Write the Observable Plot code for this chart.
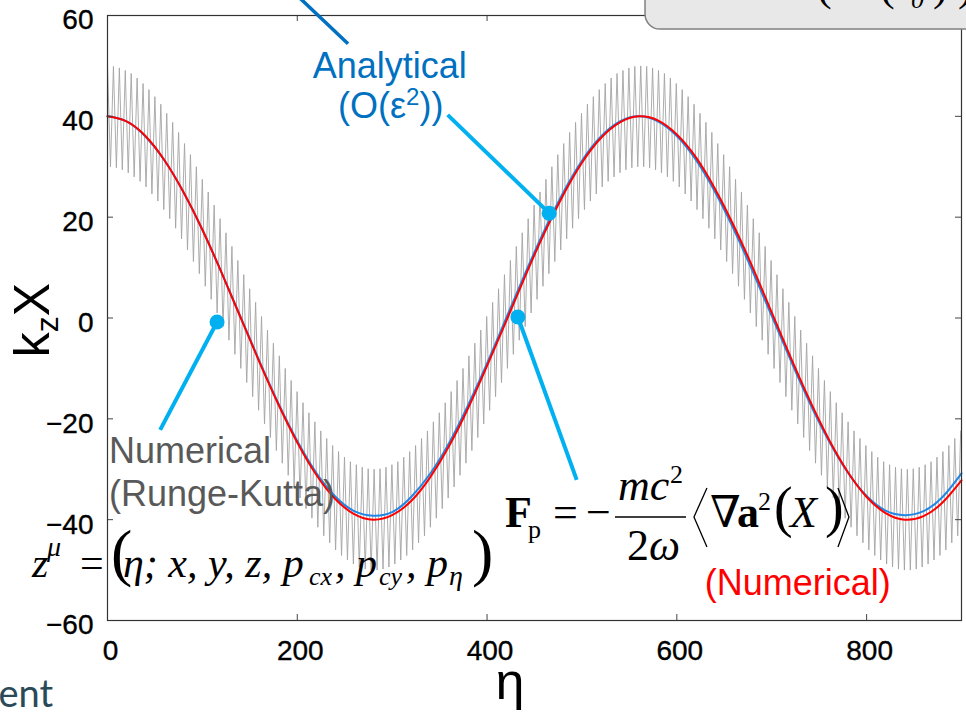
<!DOCTYPE html>
<html>
<head>
<meta charset="utf-8">
<script src="https://cdn.jsdelivr.net/npm/d3@7"></script>
<script src="https://cdn.jsdelivr.net/npm/@observablehq/plot@0.6"></script>
<style>
  html, body { margin: 0; padding: 0; background: #fff; overflow: hidden; }
  svg { display: block; }
  g[aria-label$="tick label"] text { stroke: #000; stroke-width: 0.35px; }
</style>
</head>
<body>
<div id="chart"></div>
<script>
// ---- axis ticks ----
const xTicks = [0, 200, 400, 600, 800];
const yTicks = [-60, -40, -20, 0, 20, 40, 60];

// ---- smooth curves: guiding-centre (red, numerical ponderomotive) and analytical O(eps^2) (blue) ----
const etaCurve = [0,20,40,60,80,100,120,140,160,180,200,220,240,260,280,300,320,340,360,380,400,420,440,460,480,500,520,540,560,580,600,620,640,660,680,700,720,740,760,780,800,820,840,860,880,900];
const redValues = [40.0,39.0,36.1,31.3,25.0,17.5,9.1,0.2,-8.7,-17.1,-24.7,-31.1,-35.9,-38.9,-40.0,-39.1,-36.3,-31.6,-25.4,-17.9,-9.5,-0.7,8.2,16.7,24.3,30.8,35.7,38.8,40.0,39.2,36.4,31.9,25.7,18.3,10.0,1.1,-7.8,-16.3,-24.0,-30.5,-35.5,-38.7,-40.0,-39.3,-36.6,-32.2];
const blueValues = [40.0,39.0,36.0,31.3,25.0,17.5,9.1,0.3,-8.5,-16.9,-24.4,-30.7,-35.4,-38.3,-39.2,-38.5,-35.5,-30.9,-24.8,-17.3,-9.0,-0.1,8.8,17.2,24.8,31.2,36.0,39.0,40.0,39.0,36.1,31.4,25.1,17.6,9.2,0.4,-8.4,-16.8,-24.3,-30.6,-35.3,-38.2,-39.1,-38.3,-35.5,-30.8];

// ---- Runge-Kutta trajectory: fast quiver, successive maxima and minima ----
const grayHalfPeriod = 3.122; // eta between a maximum and the next minimum
const grayMaxima = [
50.0,49.9,49.6,49.1,48.5,47.6,46.5,45.3,43.9,42.4,
40.6,38.8,36.8,34.6,32.4,30.0,27.5,25.0,22.4,19.7,
16.9,14.2,11.4,8.6,5.8,3.1,0.3,-2.4,-5.0,-7.5,
-10.0,-12.4,-14.6,-16.8,-18.8,-20.6,-22.4,-23.9,-25.3,-26.5,
-27.6,-28.5,-29.1,-29.6,-29.9,-30.0,-29.9,-29.6,-29.1,-28.5,
-27.6,-26.5,-25.3,-23.9,-22.4,-20.6,-18.8,-16.8,-14.6,-12.4,
-10.0,-7.5,-5.0,-2.4,0.3,3.1,5.8,8.6,11.4,14.2,
16.9,19.7,22.4,25.0,27.5,30.0,32.4,34.6,36.8,38.8,
40.6,42.4,43.9,45.3,46.5,47.6,48.5,49.1,49.6,49.9,
50.0,49.9,49.6,49.1,48.5,47.6,46.5,45.3,43.9,42.4,
40.6,38.8,36.8,34.6,32.4,30.0,27.5,25.0,22.4,19.7,
16.9,14.2,11.4,8.6,5.8,3.1,0.3,-2.4,-5.0,-7.5,
-10.0,-12.4,-14.6,-16.8,-18.8,-20.6,-22.4,-23.9,-25.3,-26.5,
-27.6,-28.5,-29.1,-29.6,-29.9,-30.0,-29.9,-29.6,-29.1,-28.5,
-27.6,-26.5,-25.3,-23.9,-22.4];
const grayMinima = [
30.0,29.8,29.4,28.8,28.0,27.1,26.0,24.6,23.2,21.5,
19.7,17.8,15.7,13.5,11.2,8.8,6.3,3.7,1.0,-1.7,
-4.4,-7.2,-10.0,-12.8,-15.6,-18.3,-21.0,-23.7,-26.3,-28.8,
-31.2,-33.5,-35.7,-37.8,-39.7,-41.5,-43.2,-44.6,-46.0,-47.1,
-48.0,-48.8,-49.4,-49.8,-50.0,-50.0,-49.8,-49.4,-48.8,-48.0,
-47.1,-46.0,-44.6,-43.2,-41.5,-39.7,-37.8,-35.7,-33.5,-31.2,
-28.8,-26.3,-23.7,-21.0,-18.3,-15.6,-12.8,-10.0,-7.2,-4.4,
-1.7,1.0,3.7,6.3,8.8,11.2,13.5,15.7,17.8,19.7,
21.5,23.2,24.6,26.0,27.1,28.0,28.8,29.4,29.8,30.0,
30.0,29.8,29.4,28.8,28.0,27.1,26.0,24.6,23.2,21.5,
19.7,17.8,15.7,13.5,11.2,8.8,6.3,3.7,1.0,-1.7,
-4.4,-7.2,-10.0,-12.8,-15.6,-18.3,-21.0,-23.7,-26.3,-28.8,
-31.2,-33.5,-35.7,-37.8,-39.7,-41.5,-43.2,-44.6,-46.0,-47.1,
-48.0,-48.8,-49.4,-49.8,-50.0,-50.0,-49.8,-49.4,-48.8,-48.0,
-47.1,-46.0,-44.6,-43.2];

// ---- annotation anchors (data coordinates) ----
const labelAnalytical = {eta: 298, v: 47.5};
const labelAnalytical2 = {eta: 299, v: 39.6};
const calloutAnalytical = [[359, 40.2], [466, 20.7]];
const calloutForce = [[433, 0.1], [495, -32.2]];
const calloutNumerical = [[116, -0.9], [56, -22.3]];
const topPointer = [[203, 63.4], [254, 54.3]];
const labelNumerical = {eta: 2, v: -28.9};
const labelRunge = {eta: 2, v: -37.3};
const labelRedNumerical = {eta: 630, v: -55.0};
const formulaZ = {eta: -81.1, v: -51.5};
const formulaF = {eta: 419.4, v: -41.55};
const boxCorner = {eta: 567, v: 57.2};
const yTitlePos = {eta: -61, v: -0.5};
const xTitlePos = {eta: 424.7, v: -75.7};
const cutTextPos = {eta: -56.9, v: -77.3};

// ---- build tables ----
const curves = etaCurve.map((e, i) => ({eta: e, red: redValues[i], blue: blueValues[i]}));
const grayPts = [];
grayMaxima.forEach((v, k) => {
  grayPts.push({eta: 2 * k * grayHalfPeriod, v});
  if (k < grayMinima.length) grayPts.push({eta: (2 * k + 1) * grayHalfPeriod, v: grayMinima[k]});
});

const W = 966, H = 717, mL = 107, mR = 5, mT = 15, mB = 97;
const pw = W - mL - mR, ph = H - mT - mB;
const tickLen = 6;

const chart = Plot.plot({
  width: W, height: H,
  marginLeft: mL, marginRight: mR, marginTop: mT, marginBottom: mB,
  style: {fontFamily: "'Liberation Sans', Arial, sans-serif", fontSize: "28px", color: "#000", background: "#fff", overflow: "visible"},
  x: {domain: [0, 900]},
  y: {domain: [-60, 60]},
  marks: [
    Plot.line(grayPts, {x: "eta", y: "v", stroke: "#a4a4a4", strokeWidth: 0.9}),
    Plot.line(curves, {x: "eta", y: "blue", stroke: "#1f86e6", strokeWidth: 2, curve: "natural"}),
    Plot.line(curves, {x: "eta", y: "red", stroke: "#ff0000", strokeWidth: 2, curve: "natural"}),
    Plot.ruleX(xTicks, {insetTop: ph - tickLen, stroke: "#444"}),
    Plot.ruleX(xTicks, {insetBottom: ph - tickLen, stroke: "#444"}),
    Plot.ruleY(yTicks, {insetRight: pw - tickLen, stroke: "#444"}),
    Plot.ruleY(yTicks, {insetLeft: pw - tickLen, stroke: "#444"}),
    Plot.frame({stroke: "#333", strokeWidth: 1.2}),
    Plot.axisX({ticks: xTicks, tickSize: 0, tickPadding: 20, dx: 3, fontSize: 28, label: null}),
    Plot.axisY({ticks: yTicks, tickSize: 0, tickPadding: 14, dy: 5, fontSize: 28, label: null})
  ]
});
document.getElementById("chart").appendChild(chart);

// ---- annotations, placed through the plot's scales ----
const sx = chart.scale("x"), sy = chart.scale("y");
const P = (e, v) => [sx.apply(e), sy.apply(v)];
const svg = d3.select(chart);
const g = svg.append("g").attr("text-anchor", "start");
const SANS = "'Liberation Sans', Arial, sans-serif";
const SERIF = "'Liberation Serif', 'Times New Roman', 'DejaVu Serif', serif";

function seg(pair, color, w) {
  const [x1, y1] = P(...pair[0]), [x2, y2] = P(...pair[1]);
  g.append("line").attr("x1", x1).attr("y1", y1).attr("x2", x2).attr("y2", y2)
    .attr("stroke", color).attr("stroke-width", w).attr("stroke-linecap", "butt");
}
function dot(pt, color, r) {
  const [x, y] = P(...pt);
  g.append("circle").attr("cx", x).attr("cy", y).attr("r", r).attr("fill", color);
}
function label(pos, html, opts) {
  const [x, y] = P(pos.eta, pos.v);
  const t = g.append("text").attr("x", x).attr("y", y)
    .attr("font-family", opts.font || SANS).attr("font-size", opts.size)
    .attr("fill", opts.fill || "#000").attr("text-anchor", opts.anchor || "start");
  if (opts.transform) t.attr("transform", opts.transform(x, y));
  t.html(html);
  return t;
}
// typographic pieces relative to an anchor
function pieces(pos, list) {
  const [x0, y0] = P(pos.eta, pos.v);
  for (const p of list) {
    g.append("text").attr("x", x0 + p.x).attr("y", y0 + (p.y || 0))
      .attr("text-anchor", "start")
      .attr("font-family", p.font || SERIF).attr("font-size", p.s)
      .attr("font-style", p.i ? "italic" : "normal").attr("font-weight", p.b ? "bold" : "normal")
      .attr("fill", "#000").text(p.t);
  }
  return [x0, y0];
}

// top-right grey box (partially visible)
{
  const [bx, by] = P(boxCorner.eta, boxCorner.v);
  g.append("rect").attr("x", bx).attr("y", by - 60).attr("width", 360).attr("height", 60).attr("rx", 15)
    .attr("fill", "#e8e8e8").attr("stroke", "#808080").attr("stroke-width", 1.5);
  const bits = [["(", 172, -29, 44], ["(", 235, -29, 44], ["0", 266, -21, 26], [")", 288, -29, 44], [")", 313, -29, 44]];
  for (const [t, dx, dy, s] of bits) {
    g.append("text").attr("x", bx + dx).attr("y", by + dy).attr("font-family", SERIF)
      .attr("text-anchor", "start")
      .attr("font-size", s).attr("font-style", t === "0" ? "italic" : "normal").text(t);
  }
}

// pointer lines and dots
seg(topPointer, "#0070c0", 3.5);
seg(calloutAnalytical, "#00b0f0", 4);
seg(calloutForce, "#00b0f0", 4);
seg(calloutNumerical, "#00b0f0", 4);
dot(calloutAnalytical[1], "#00b0f0", 7.5);
dot(calloutForce[0], "#00b0f0", 7.5);
dot(calloutNumerical[0], "#00b0f0", 7.5);

// text labels
label(labelAnalytical, "Analytical", {size: 36, fill: "#0070c0", anchor: "middle"});
label(labelAnalytical2, '(O(ε<tspan dy="-13" font-size="24">2</tspan><tspan dy="13">))</tspan>', {size: 36, fill: "#0070c0", anchor: "middle"});
label(labelNumerical, "Numerical", {size: 36, fill: "#595959"});
label(labelRunge, "(Runge-Kutta)", {size: 36, fill: "#595959"});
label(labelRedNumerical, "(Numerical)", {size: 36, fill: "#ff0000"});

// z^mu formula
pieces(formulaZ, [
  {t: "z", x: 2, s: 42, i: true},
  {t: "μ", x: 17, y: -21, s: 28, i: true},
  {t: "=", x: 50, s: 42},
  {t: "(", x: 81, y: -3, s: 64},
  {t: "η; x, y, z, p", x: 93, s: 42, i: true},
  {t: "cx", x: 279, y: 8, s: 26, i: true},
  {t: ", p", x: 305, s: 42, i: true},
  {t: "cy", x: 349, y: 8, s: 26, i: true},
  {t: ", p", x: 376, s: 42, i: true},
  {t: "η", x: 419, y: 8, s: 28, i: true},
  {t: ")", x: 442, y: -3, s: 64}
]);

// F_p formula
{
  const [fx, fy] = pieces(formulaF, [
    {t: "F", x: 0, s: 44, b: true},
    {t: "p", x: 23, y: 11, s: 26},
    {t: "=", x: 48, s: 44},
    {t: "−", x: 81, s: 44},
    {t: "mc", x: 113, y: -27, s: 44, i: true},
    {t: "2", x: 165, y: -44, s: 26},
    {t: "2", x: 122, y: 33, s: 44},
    {t: "ω", x: 144, y: 33, s: 44, i: true},
    {t: "∇", x: 205, s: 44},
    {t: "a", x: 232, s: 44, b: true},
    {t: "2", x: 253, y: -17, s: 26},
    {t: "(", x: 269, y: -1, s: 56},
    {t: "X", x: 285, s: 44, i: true},
    {t: ")", x: 320, y: -1, s: 56}
  ]);
  g.append("line").attr("x1", fx + 110).attr("x2", fx + 181).attr("y1", fy - 10).attr("y2", fy - 10)
    .attr("stroke", "#000").attr("stroke-width", 1.6);
  g.append("path").attr("d", `M${fx + 202},${fy - 39} L${fx + 189},${fy - 10} L${fx + 202},${fy + 20}`)
    .attr("fill", "none").attr("stroke", "#000").attr("stroke-width", 1.3);
  g.append("path").attr("d", `M${fx + 333},${fy - 39} L${fx + 344},${fy - 10} L${fx + 333},${fy + 20}`)
    .attr("fill", "none").attr("stroke", "#000").attr("stroke-width", 1.3);
}

// axis titles
label(yTitlePos, 'k<tspan dy="9" font-size="32">z</tspan><tspan dy="-9">X</tspan>',
  {size: 50, anchor: "middle", transform: (x, y) => `rotate(-90 ${x} ${y})`});
label(xTitlePos, "η", {size: 52, anchor: "middle"});
label(cutTextPos, "ent", {size: 38, fill: "#2a4a58", anchor: "end", font: "Lato, 'Open Sans', sans-serif"});
</script>
</body>
</html>
